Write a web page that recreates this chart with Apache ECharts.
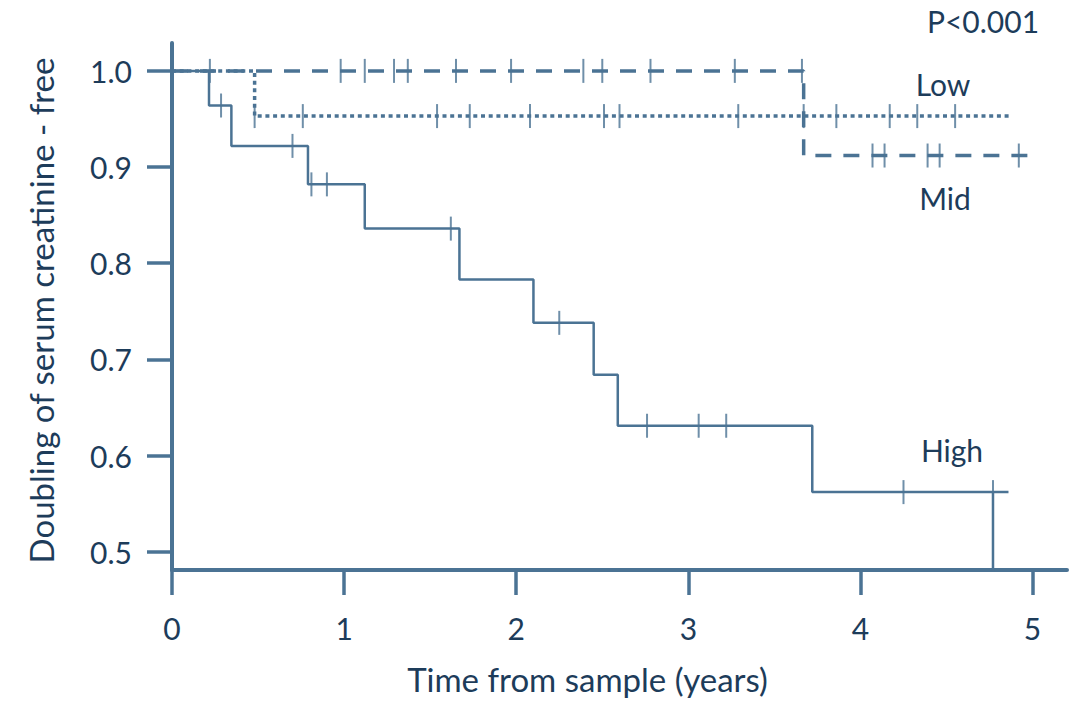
<!DOCTYPE html>
<html><head><meta charset="utf-8">
<script src="https://cdn.jsdelivr.net/npm/echarts@6/dist/echarts.min.js"></script>
<style>html,body{margin:0;padding:0;background:#fff}#c{width:1074px;height:707px}</style>
</head><body><div id="c"></div>
<script>
// ---- data ----
const xTicks = [0, 1, 2, 3, 4, 5];
const yTicks = [0.5, 0.6, 0.7, 0.8, 0.9, 1.0];

// High group: event times and survival after each step
const highTimes = [0, 0.215, 0.345, 0.79, 1.12, 1.67, 2.10, 2.45, 2.59, 3.72, 4.86];
const highSurv  = [1.0, 0.964, 0.922, 0.882, 0.836, 0.783, 0.738, 0.684, 0.631, 0.562, 0.562];
const highCensorTimes = [0.285, 0.70, 0.81, 0.90, 1.62, 2.25, 2.76, 3.06, 3.22, 4.25, 4.77];
const highCensorSurv  = [0.964, 0.922, 0.882, 0.882, 0.836, 0.738, 0.631, 0.631, 0.631, 0.562, 0.562];
const highDropTimes = [4.77, 4.77];
const highDropSurv  = [0.562, 0.0];

// Mid group
const midTimes = [0, 3.67, 4.97];
const midSurv  = [1.0, 0.912, 0.912];
const midCensorTimes = [0.22, 0.98, 1.12, 1.29, 1.37, 1.65, 1.97, 2.39, 2.50, 2.78, 3.27, 3.66, 4.07, 4.14, 4.39, 4.46, 4.92];
const midCensorSurv  = [1.0, 1.0, 1.0, 1.0, 1.0, 1.0, 1.0, 1.0, 1.0, 1.0, 1.0, 1.0, 0.912, 0.912, 0.912, 0.912, 0.912];

// Low group
const lowTimes = [0, 0.48, 4.87];
const lowSurv  = [1.0, 0.953, 0.953];
const lowCensorTimes = [0.48, 0.76, 1.54, 1.73, 2.08, 2.51, 2.60, 3.29, 3.67, 3.86, 4.17, 4.33, 4.55];
const lowCensorSurv  = [0.953, 0.953, 0.953, 0.953, 0.953, 0.953, 0.953, 0.953, 0.953, 0.953, 0.953, 0.953, 0.953];

const groupLabels = ['Low', 'Mid', 'High'];
const pValueText = 'P<0.001';
const xTitle = 'Time from sample (years)';
const yTitle = 'Doubling of serum creatinine - free';

// ---- chart ----
const LINE = '#4b7394';
const TEXT = '#1d3c5a';
const FONT = 'Lato';
const zip = (a, b) => a.map((v, i) => [v, b[i]]);

const chart = echarts.init(document.getElementById('c'), null, {renderer: 'svg'});

const censor = (t, s) => ({
  type: 'scatter', data: zip(t, s), symbol: 'rect', symbolSize: [2, 24],
  itemStyle: {color: LINE}, silent: true, z: 3
});

chart.setOption({
  animation: false,
  backgroundColor: '#fff',
  grid: {left: 172, top: 43, right: 7, bottom: 137, containLabel: false},
  xAxis: {
    type: 'value', min: 0, max: 5.2,
    name: xTitle, nameLocation: 'middle', nameGap: 92,
    nameTextStyle: {fontFamily: FONT, fontSize: 33, color: TEXT, padding: [0, 64, 0, 0]},
    axisLine: {show: true, lineStyle: {color: LINE, width: 4}},
    axisTick: {show: true, length: 25, lineStyle: {color: LINE, width: 3.5}, customValues: xTicks},
    axisLabel: {margin: 43, fontFamily: FONT, fontSize: 30, color: TEXT, customValues: xTicks,
      formatter: v => String(v)},
    splitLine: {show: false}
  },
  yAxis: {
    type: 'value', min: 0.481, max: 1.029,
    name: yTitle, nameLocation: 'middle', nameGap: 115, nameRotate: 90,
    nameTextStyle: {fontFamily: FONT, fontSize: 33, color: TEXT, padding: [0, 8, 0, 0]},
    axisLine: {show: true, lineStyle: {color: LINE, width: 4}},
    axisTick: {show: true, length: 25, lineStyle: {color: LINE, width: 3.5}, customValues: yTicks},
    axisLabel: {margin: 40, fontFamily: FONT, fontSize: 30, color: TEXT, customValues: yTicks,
      formatter: v => v.toFixed(1)},
    splitLine: {show: false}
  },
  series: [
    {type: 'line', name: 'Low', step: 'end', data: zip(lowTimes, lowSurv), symbol: 'none',
      lineStyle: {color: LINE, width: 3.5, type: [4, 3.7], cap: 'butt'}, z: 2},
    {type: 'line', name: 'Mid', step: 'end', data: zip(midTimes, midSurv), symbol: 'none',
      lineStyle: {color: LINE, width: 3.5, type: [16, 12], cap: 'butt'}, z: 2},
    {type: 'line', name: 'High', step: 'end', data: zip(highTimes, highSurv), symbol: 'none',
      lineStyle: {color: LINE, width: 2.5, type: 'solid'}, z: 2},
    {type: 'line', name: 'High drop', data: zip(highDropTimes, highDropSurv), symbol: 'none',
      lineStyle: {color: LINE, width: 2.5}, z: 2},
    censor(lowCensorTimes, lowCensorSurv),
    censor(midCensorTimes, midCensorSurv),
    censor(highCensorTimes, highCensorSurv)
  ],
  graphic: [
    {type: 'text', x: 983, y: 21, style: {text: pValueText, fontFamily: FONT, fontSize: 30, fill: TEXT, align: 'center', verticalAlign: 'middle'}},
    {type: 'text', x: 943, y: 84, style: {text: groupLabels[0], fontFamily: FONT, fontSize: 30, fill: TEXT, align: 'center', verticalAlign: 'middle'}},
    {type: 'text', x: 945, y: 198, style: {text: groupLabels[1], fontFamily: FONT, fontSize: 30, fill: TEXT, align: 'center', verticalAlign: 'middle'}},
    {type: 'text', x: 952, y: 450, style: {text: groupLabels[2], fontFamily: FONT, fontSize: 30, fill: TEXT, align: 'center', verticalAlign: 'middle'}}
  ]
});
</script></body></html>
